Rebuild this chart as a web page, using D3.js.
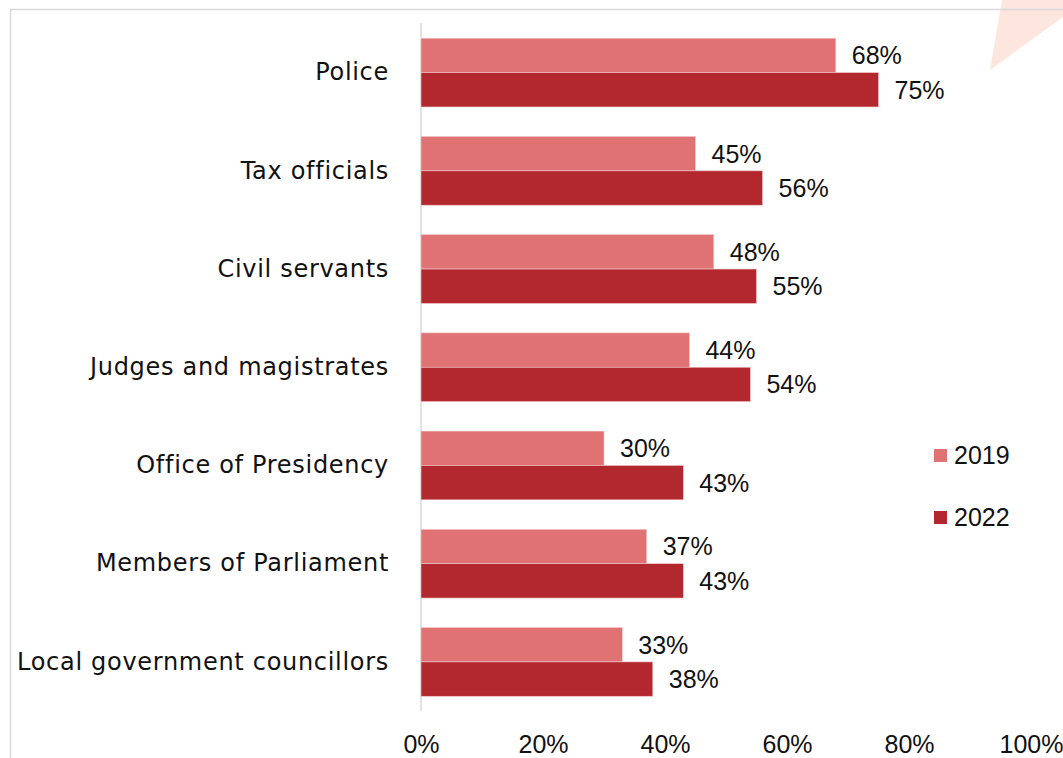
<!DOCTYPE html>
<html>
<head>
<meta charset="utf-8">
<script src="https://cdn.jsdelivr.net/npm/d3@7"></script>
<style>
  html, body { margin: 0; padding: 0; background: #fff; }
  svg { display: block; }
  .cat { font-family: "DejaVu Sans", "Noto Sans", sans-serif; font-size: 24px; letter-spacing: 0.7px; fill: #111; }
  .num { font-family: "Liberation Sans", sans-serif; font-size: 25px; fill: #111; }
</style>
</head>
<body>
<script>
// Trust in public institutions, share of respondents
const categories = ["Police", "Tax officials", "Civil servants", "Judges and magistrates",
  "Office of Presidency", "Members of Parliament", "Local government councillors"];
const years = ["2019", "2022"];
const values2019 = [68, 45, 48, 44, 30, 37, 33];
const values2022 = [75, 56, 55, 54, 43, 43, 38];
const xTicks = [0, 20, 40, 60, 80, 100];
const colors = ["#e07274", "#b3282e"];

const W = 1063, H = 758;
const svg = d3.select("body").append("svg").attr("width", W).attr("height", H);

// decorative wedge in the top-right corner
svg.append("path")
  .attr("d", "M1002,0 L1063,0 L1063,17 L990,70 Z")
  .attr("fill", "#fde6dd");

// frame
svg.append("rect")
  .attr("x", 10.5).attr("y", 9.5).attr("width", W + 20).attr("height", H + 20)
  .attr("fill", "none").attr("stroke", "#d9d9d9").attr("stroke-width", 1.5);

const x = d3.scaleLinear().domain([0, 100]).range([421, 1031]);
const y = d3.scaleBand().domain(categories).range([23.5, 711]).paddingInner(0.3).paddingOuter(0.15);
const ySub = d3.scaleBand().domain(years).range([0, y.bandwidth()]);

// vertical baseline
svg.append("line")
  .attr("x1", x(0)).attr("x2", x(0)).attr("y1", 23).attr("y2", 711)
  .attr("stroke", "#d9d9d9").attr("stroke-width", 1.5);

const rows = categories.map((c, i) => ({ cat: c, vals: [values2019[i], values2022[i]] }));

const g = svg.selectAll("g.row").data(rows).join("g")
  .attr("class", "row")
  .attr("transform", d => `translate(0,${y(d.cat)})`);

g.selectAll("rect").data(d => d.vals.map((v, k) => ({ v, k }))).join("rect")
  .attr("x", x(0))
  .attr("y", d => ySub(years[d.k]))
  .attr("width", d => x(d.v) - x(0))
  .attr("height", ySub.bandwidth())
  .attr("fill", d => colors[d.k])
  .attr("stroke", "#f3c9c9").attr("stroke-width", 0.6);

g.selectAll("text.val").data(d => d.vals.map((v, k) => ({ v, k }))).join("text")
  .attr("class", "num val")
  .attr("x", d => x(d.v) + 16)
  .attr("y", d => ySub(years[d.k]) + ySub.bandwidth() / 2)
  .attr("dy", "0.36em")
  .text(d => d.v + "%");

// category labels
const yAxis = d3.axisLeft(y).tickSize(0).tickPadding(32);
svg.append("g").attr("transform", `translate(${x(0)},0)`).call(yAxis)
  .call(a => a.select(".domain").remove())
  .selectAll("text").attr("class", "cat").attr("font-family", null).attr("font-size", null).attr("fill", null);

// value axis labels
const xAxis = d3.axisBottom(x).tickValues(xTicks).tickFormat(d => d + "%").tickSize(0).tickPadding(0);
svg.append("g").attr("transform", `translate(0,735)`).call(xAxis)
  .call(a => a.select(".domain").remove())
  .selectAll("text").attr("class", "num").attr("font-family", null).attr("font-size", null).attr("fill", null)
  .attr("dy", "0.72em");

// legend
const leg = svg.append("g").selectAll("g").data(years).join("g")
  .attr("transform", (d, i) => `translate(934,${455 + i * 62})`);
leg.append("rect").attr("x", 0).attr("y", -6).attr("width", 13).attr("height", 13)
  .attr("fill", (d, i) => colors[i]);
leg.append("text").attr("class", "num").attr("x", 20).attr("dy", "0.36em").text(d => d);
</script>
</body>
</html>
